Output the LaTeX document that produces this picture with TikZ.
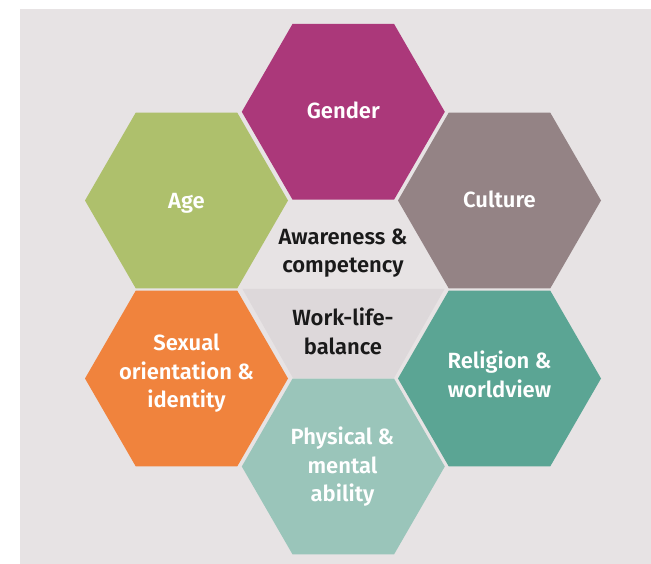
\documentclass[tikz,border=0pt]{standalone}
\usepackage{fontspec}
\setmainfont{Fira Sans SemiBold}
\usetikzlibrary{shapes.geometric}

\definecolor{bgpanel}{RGB}{231,227,228}
\definecolor{gendercol}{RGB}{171,56,122}
\definecolor{agecol}{RGB}{174,192,108}
\definecolor{culturecol}{RGB}{148,131,133}
\definecolor{sexualcol}{RGB}{240,131,61}
\definecolor{religioncol}{RGB}{91,165,148}
\definecolor{physicalcol}{RGB}{154,197,186}
\definecolor{worklifecol}{RGB}{221,216,218}
\definecolor{darktext}{RGB}{26,26,26}

\tikzset{
  hexa/.style={regular polygon, regular polygon sides=6, minimum size=203pt,
    inner sep=0pt, outer sep=0pt},
  labeltext/.style={anchor=base, align=center, inner sep=0pt,
    font=\fontsize{22}{28.5}\selectfont},
  onhex/.style={labeltext, text=white},
  centertext/.style={labeltext, text=darktext}
}

\begin{document}
\begin{tikzpicture}[x=1pt,y=-1pt]
  % page frame and grey panel
  \useasboundingbox (0,0) rectangle (651,564);
  \fill[bgpanel] (20,9) rectangle (651,564);

  % lower half of the central hexagon
  \fill[worklifecol] (242.5,289) -- (444.5,289) -- (394,378) -- (293,378) -- cycle;

  % surrounding hexagons
  \node[hexa, fill=gendercol]   (gender)   at (343.3,111.8) {};
  \node[hexa, fill=agecol]      (age)      at (186.5,200.5) {};
  \node[hexa, fill=culturecol]  (culture)  at (499.5,200.5) {};
  \node[hexa, fill=sexualcol]   (sexual)   at (186.5,378.5) {};
  \node[hexa, fill=religioncol] (religion) at (499.5,378.5) {};
  \node[hexa, fill=physicalcol] (physical) at (343.3,466.5) {};

  % labels, placed by the baseline of their last line
  \node[onhex] (gender-t)   at (343.3,118.5) {Gender};
  \node[onhex] (age-t)      at (186.5,208.5) {Age};
  \node[onhex] (culture-t)  at (499.5,207.5) {Culture};
  \node[onhex] (sexual-t)   at (186.5,407.5) {Sexual\\orientation \&\\identity};
  \node[onhex] (religion-t) at (499.5,397)   {Religion \&\\worldview};
  \node[onhex] (physical-t) at (342.5,501.5) {Physical \&\\mental\\ability};

  % texts in the centre
  \node[centertext] (awareness) at (343,272.7) {Awareness \&\\competency};
  \node[centertext] (worklife)  at (343,354.3) {Work-life-\\balance};
\end{tikzpicture}
\end{document}
